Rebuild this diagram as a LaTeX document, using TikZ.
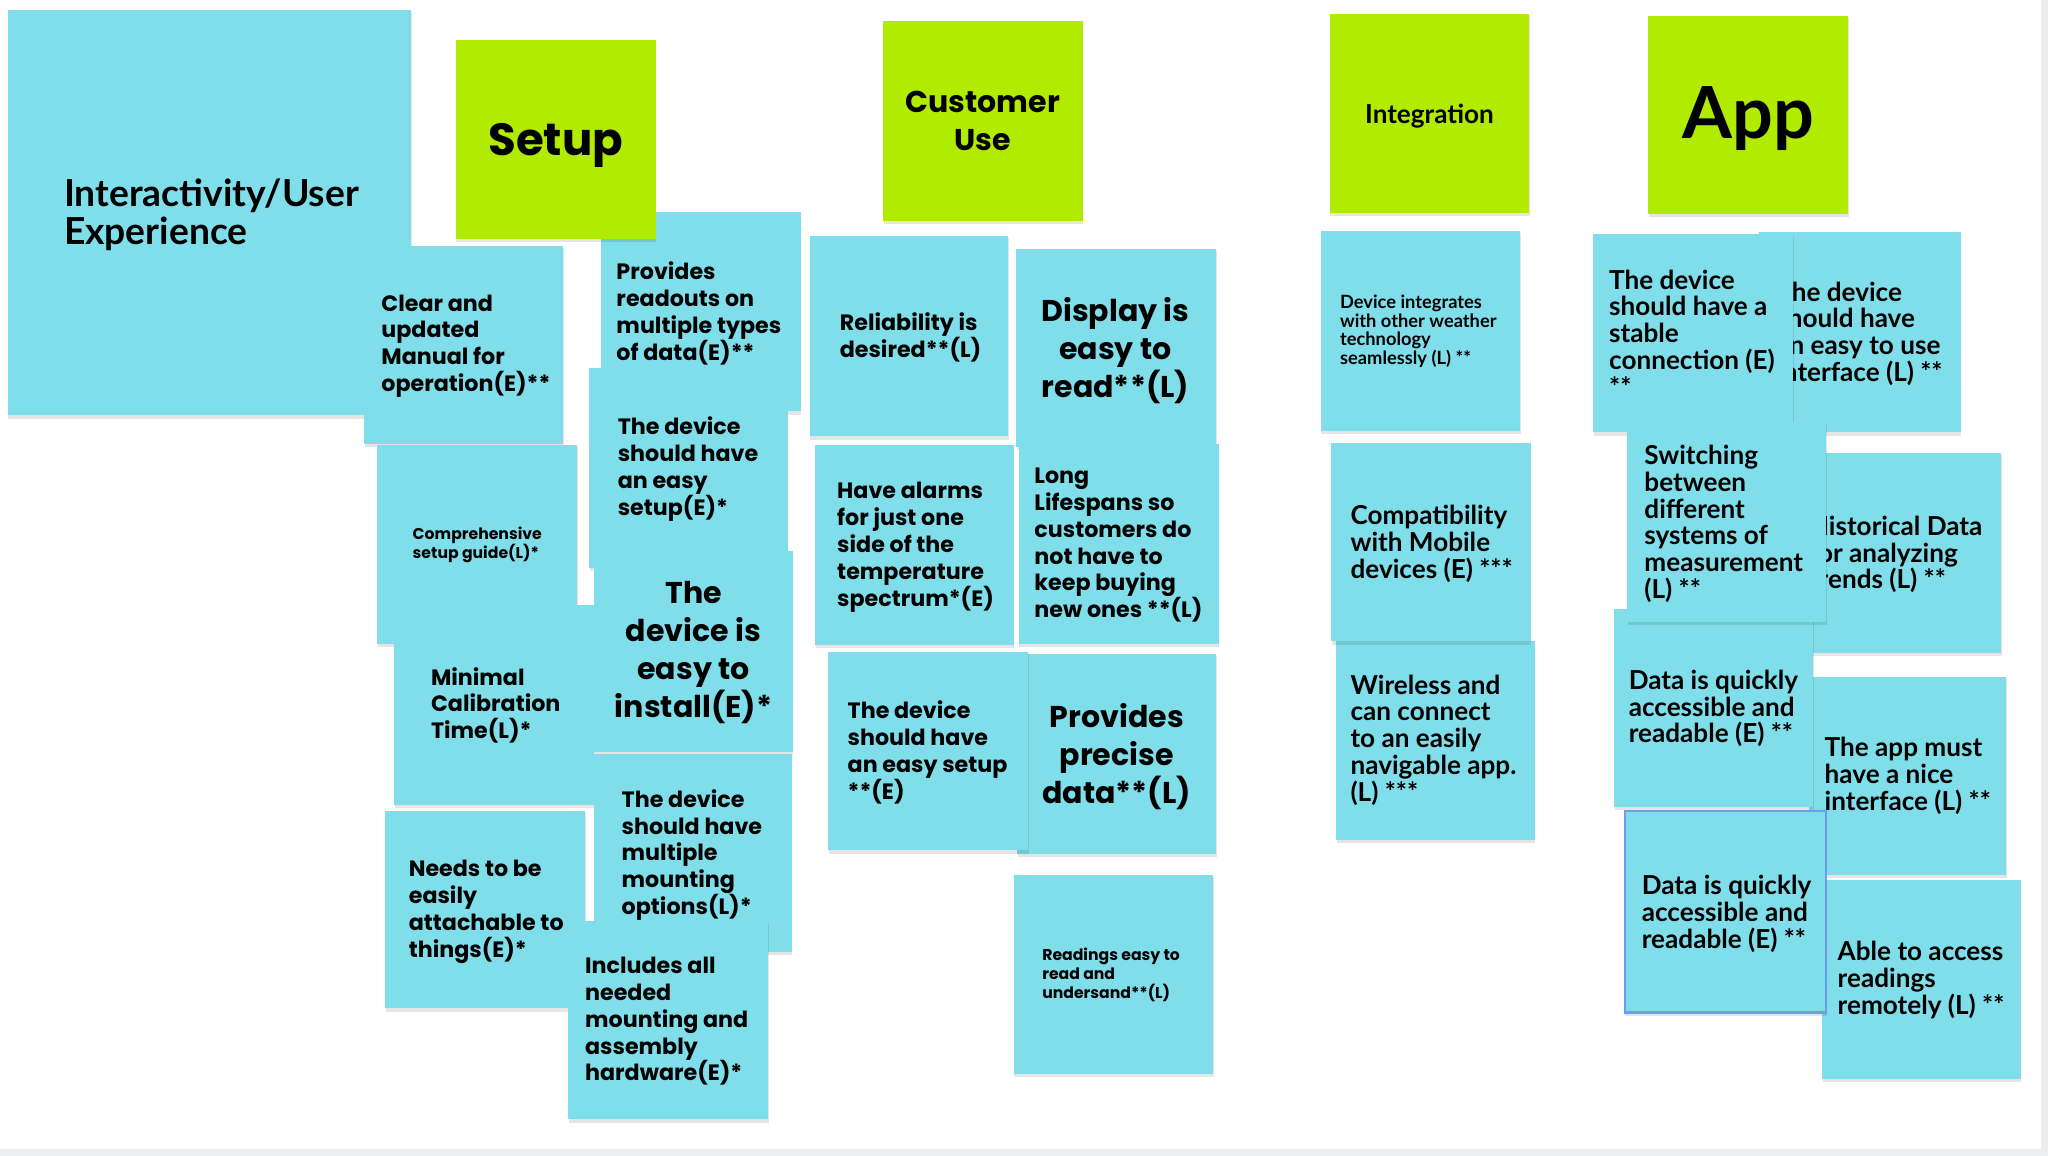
\documentclass[tikz,border=0pt]{standalone}
\usepackage{fontspec}
\newfontfamily\montfont{Poppins}
\newfontfamily\proxfont{Lato}
\definecolor{notecyan}{HTML}{80DEEA}
\definecolor{notelime}{HTML}{B0EB00}
\definecolor{selblue}{HTML}{6D9EEB}
\definecolor{edgegray}{HTML}{ECEDEE}

% one sticky note: optional fill, name, left, top, right, bottom
\newcommand{\stickynote}[6][notecyan]{%
  \fill[black,opacity=0.10] (#3+0.5,#4+1.5) rectangle (#5+0.5,#6+2.5);
  \node[fill=#1, inner sep=0pt, outer sep=0pt, anchor=north west,
        minimum width={(#5)-(#3)}, minimum height={(#6)-(#4)}] (#2) at (#3,#4) {};
}

\tikzset{
  txt/.style={inner sep=0pt, outer sep=0pt, text=black},
  mt/.style={txt, align=left, anchor=west, font=\montfont\bfseries\fontsize{17}{20.5}\selectfont},
  mtsmall/.style={txt, align=left, anchor=west, font=\montfont\bfseries\fontsize{12}{14.3}\selectfont},
  mtbig/.style={txt, align=center, anchor=center, font=\montfont\bfseries\fontsize{23}{29}\selectfont},
  pt/.style={txt, align=left, anchor=west, font=\proxfont\bfseries\fontsize{20}{20.5}\selectfont},
  ptsmall/.style={txt, align=left, anchor=west, font=\proxfont\bfseries\fontsize{14}{14.3}\selectfont},
}

\begin{document}
\begin{tikzpicture}[x=1pt,y=-1pt]
\useasboundingbox (0,0) rectangle (1568,885);
\fill[white] (0,0) rectangle (1568,885);
\fill[edgegray] (0,880) rectangle (1568,885);
\fill[edgegray] (1563,0) rectangle (1568,885);

% ---- Interactivity / User Experience
\stickynote{ux}{6}{8}{315}{318}
\node[txt, align=left, anchor=west, font=\proxfont\bfseries\fontsize{28.5}{29}\selectfont] (uxT) at (49,164.5) {Interactivity/User\\Experience};

% ---- Setup column
\stickynote{readouts}{460}{162}{613}{315}
\node[mt] (readoutsT) at (472,240) {Provides\\readouts on\\multiple types\\of data(E)**};
\stickynote[notelime]{setup}{349}{31}{502}{183}
\node[txt, font=\montfont\bfseries\fontsize{34.5}{36}\selectfont] (setupT) at ([yshift=-4pt]setup.center) {Setup};
\stickynote{clear}{279}{188}{431}{340}
\node[mt] (clearT) at (292,265) {Clear and\\updated\\Manual for\\operation(E)**};
\stickynote{guide}{289}{341}{442}{493}
\node[mtsmall] (guideT) at (316,417) {Comprehensive\\setup guide(L)*};
\stickynote{easysetup}{451}{282}{603}{435}
\node[mt] (easysetupT) at (473,359) {The device\\should have\\an easy\\setup(E)*};
\stickynote{calib}{302}{463}{455}{616}
\node[mt] (calibT) at (330,540) {Minimal\\Calibration\\Time(L)*};
\stickynote{install}{455}{422}{607}{576}
\node[mtbig] (installT) at (531,499.5) {The\\device is\\easy to\\install(E)*};
\stickynote{mounting}{455}{577}{606}{729}
\node[mt] (mountingT) at (476,654.5) {The device\\should have\\multiple\\mounting\\options(L)*};
\stickynote{attach}{295}{621}{448}{772}
\node[mt] (attachT) at (313,698) {Needs to be\\easily\\attachable to\\things(E)*};
\stickynote{hardware}{435}{705}{588}{857}
\node[mt] (hardwareT) at (448,782) {Includes all\\needed\\mounting and\\assembly\\hardware(E)*};

% ---- Customer Use column
\stickynote[notelime]{custuse}{676}{16}{829}{169}
\node[txt, align=center, font=\montfont\bfseries\fontsize{23}{29}\selectfont] (custuseT) at (custuse.center) {Customer\\Use};
\stickynote{reliab}{620}{181}{772}{334}
\node[mt] (reliabT) at (643,258.5) {Reliability is\\desired**(L)};
\stickynote{display}{778}{191}{931}{342}
\node[mtbig] (displayT) at (854,268.5) {Display is\\easy to\\read**(L)};
\stickynote{alarms}{624}{341}{776}{494}
\node[mt] (alarmsT) at (641,419) {Have alarms\\for just one\\side of the\\temperature\\spectrum*(E)};
\stickynote{lifespan}{780}{340}{933}{493}
\node[mt] (lifespanT) at (792,417.5) {Long\\Lifespans so\\customers do\\not have to\\keep buying\\new ones **(L)};
\stickynote{precise}{779}{501}{931}{654}
\node[mtbig] (preciseT) at (855,579) {Provides\\precise\\data**(L)};
\stickynote{easysetupb}{634}{499}{787}{651}
\node[mt] (easysetupbT) at (649,576) {The device\\should have\\an easy setup\\**(E)};
\stickynote{readings}{776}{670}{929}{822}
\node[mtsmall] (readingsT) at (798,746.5) {Readings easy to\\read and\\undersand**(L)};

% ---- Integration column
\stickynote[notelime]{integ}{1018}{11}{1171}{163}
\node[txt, font=\proxfont\bfseries\fontsize{20}{22}\selectfont] (integT) at ([yshift=-2pt]integ.center) {Integration};
\stickynote{weather}{1011}{177}{1164}{330}
\node[ptsmall] (weatherT) at (1026,253.5) {Device integrates\\with other weather\\technology\\seamlessly (L) **};
\stickynote{wireless}{1023}{491}{1175}{643}
\node[pt] (wirelessT) at (1034,566.5) {Wireless and\\can connect\\to an easily\\navigable app.\\(L) ***};
\stickynote{mobile}{1019}{339}{1172}{491}
\node[pt] (mobileT) at (1034,416.5) {Compatibility\\with Mobile\\devices (E) ***};

% ---- App column
\stickynote[notelime]{app}{1262}{12}{1415}{164}
\node[txt, font=\proxfont\bfseries\fontsize{55}{60}\selectfont] (appT) at ([yshift=-3pt]app.center) {App};
\stickynote{easyuse}{1347}{178}{1501}{331}
\node[pt] (easyuseT) at (1360,255.5) {The device\\should have\\an easy to use\\interface (L) **};
\stickynote{stable}{1220}{179}{1373}{331}
\node[pt] (stableT) at (1232,255) {The device\\should have a\\stable\\connection (E)\\**};
\stickynote{history}{1378}{347}{1532}{500}
\node[pt] (historyT) at (1385,424.5) {Historical Data\\for analyzing\\trends (L) **};
\stickynote{niceui}{1385}{518}{1536}{670}
\node[pt] (niceuiT) at (1397,594) {The app must\\have a nice\\interface (L) **};
\stickynote{quicka}{1236}{466}{1388}{618}
\node[pt] (quickaT) at (1247,542.5) {Data is quickly\\accessible and\\readable (E) **};
\stickynote{units}{1246}{323}{1398}{476}
\node[pt] (unitsT) at (1259,401) {Switching\\between\\different\\systems of\\measurement\\(L) **};
\stickynote{remote}{1395}{674}{1547}{826}
\node[pt] (remoteT) at (1407,750.5) {Able to access\\readings\\remotely (L) **};
\stickynote{quickb}{1244}{621}{1398}{775}
\draw[selblue, line width=2pt] (quickb.north west) rectangle (quickb.south east);
\node[pt] (quickbT) at (1257,699.5) {Data is quickly\\accessible and\\readable (E) **};
\end{tikzpicture}
\end{document}
